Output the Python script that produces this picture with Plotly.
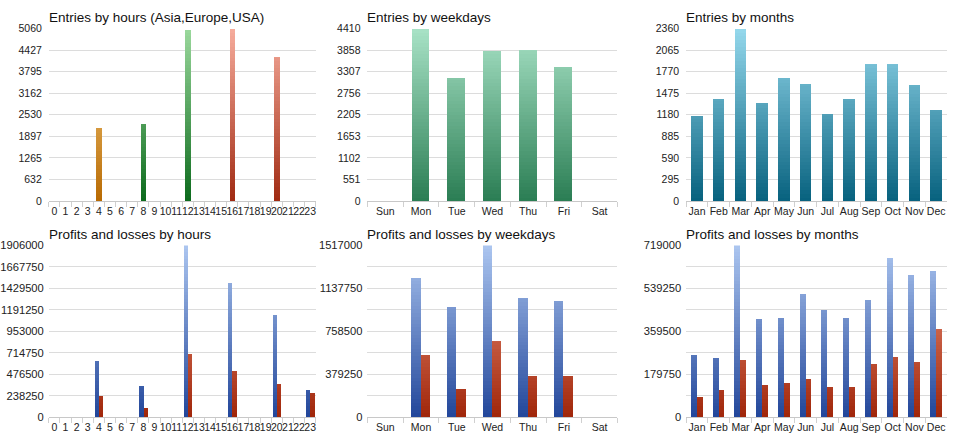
import math
import plotly.graph_objects as go

# ---------------- data ----------------
hours = [str(h) for h in range(24)]
entries_hours = [0, 0, 0, 0, 2125, 0, 0, 0, 2268, 0, 0, 0,
                 5031, 0, 0, 0, 5060, 0, 0, 0, 4231, 0, 0, 0]
hour_regions = ["Asia"] * 8 + ["Europe"] * 8 + ["USA"] * 8

weekdays = ["Sun", "Mon", "Tue", "Wed", "Thu", "Fri", "Sat"]
entries_weekdays = [0, 4410, 3147, 3853, 3870, 3422, 0]

months = ["Jan", "Feb", "Mar", "Apr", "May", "Jun",
          "Jul", "Aug", "Sep", "Oct", "Nov", "Dec"]
entries_months = [1164, 1404, 2360, 1338, 1684, 1604,
                  1196, 1391, 1876, 1871, 1587, 1240]

profit_hours = [0, 0, 0, 0, 618600, 0, 0, 0, 345300, 0, 0, 0,
                1906000, 0, 0, 0, 1485200, 0, 0, 0, 1125600, 0, 0, 291300]
loss_hours = [0, 0, 0, 0, 237400, 0, 0, 0, 100700, 0, 0, 0,
              697700, 0, 0, 0, 510700, 0, 0, 0, 363200, 0, 0, 269700]

profit_weekdays = [0, 1222200, 967500, 1517000, 1047600, 1019000, 0]
loss_weekdays = [0, 543800, 246100, 666900, 360700, 363500, 0]

profit_months = [259100, 242800, 719000, 409700, 413800, 512800,
                 447700, 413800, 487000, 664700, 591500, 610500]
loss_months = [84100, 112600, 237400, 131600, 141100, 157400,
               123500, 126200, 221100, 252300, 226600, 366300]

titles = ["Entries by hours (Asia,Europe,USA)", "Entries by weekdays", "Entries by months",
          "Profits and losses by hours", "Profits and losses by weekdays", "Profits and losses by months"]

# ---------------- styles ----------------
W, H = 960, 446
region_grad = {"Asia": ("#b86a02", "#fcd68c"),
               "Europe": ("#0c6a1c", "#9ad89c"),
               "USA": ("#a02a12", "#f6ac9c")}
green_grad = ("#2a7d53", "#a8e2c6")
teal_grad = ("#07617e", "#94d8ec")
blue_grad = ("#22469a", "#acc6f0")
red_grad = ("#a0260a", "#f49c84")

x_px = [(45, 313), (365, 616), (685, 947)]
y_px = [(23.3, 200.3), (246.0, 422.7)]
NB = 48


def hex2rgb(h):
    h = h.lstrip("#")
    return [int(h[i:i + 2], 16) for i in (0, 2, 4)]


def mix(c0, c1, t):
    a, b = hex2rgb(c0), hex2rgb(c1)
    return "rgb(%d,%d,%d)" % tuple(round(a[i] + (b[i] - a[i]) * t) for i in range(3))


fig = go.Figure()


def gradient_bars(idx, cats, vals, ymax, grads, width, offset):
    """grads: list of (bottom, top) colour per category"""
    xa = "x" if idx == 1 else "x%d" % idx
    ya = "y" if idx == 1 else "y%d" % idx
    for k in range(NB):
        lo = ymax * k / NB
        hi = ymax * (k + 1) / NB
        hs = [(min(v, hi) - lo) if v > lo else 0 for v in vals]
        t = (k + 0.5) / NB
        cols = [mix(g[0], g[1], t) for g in grads]
        fig.add_trace(go.Bar(x=cats, y=hs, base=lo, width=width, offset=offset,
                             marker=dict(color=cols, line=dict(width=0)),
                             xaxis=xa, yaxis=ya, hoverinfo="skip", showlegend=False))


panels = [
    (hours, [entries_hours], [[region_grad[r] for r in hour_regions]], [0.5], [-0.25], True),
    (weekdays, [entries_weekdays], [[green_grad] * 7], [0.5], [-0.25], True),
    (months, [entries_months], [[teal_grad] * 12], [0.53], [-0.265], True),
    (hours, [profit_hours, loss_hours], [[blue_grad] * 24, [red_grad] * 24], [0.38, 0.38], [-0.38, 0.0], True),
    (weekdays, [profit_weekdays, loss_weekdays], [[blue_grad] * 7, [red_grad] * 7], [0.26, 0.26], [-0.26, 0.0], False),
    (months, [profit_months, loss_months], [[blue_grad] * 12, [red_grad] * 12], [0.27, 0.27], [-0.27, 0.0], False),
]

layout = dict(width=W, height=H, margin=dict(l=0, r=0, t=0, b=0),
              paper_bgcolor="white", plot_bgcolor="white",
              barmode="overlay", bargap=0, bargroupgap=0,
              font=dict(family="Liberation Sans, Arial, sans-serif", size=10, color="#222"),
              annotations=[])

for i, (cats, series, grads, widths, offsets, all_labels) in enumerate(panels):
    idx = i + 1
    row, col = divmod(i, 3)
    ymax = max(max(s) for s in series)
    for s, g, w, o in zip(series, grads, widths, offsets):
        gradient_bars(idx, cats, s, ymax, g, w, o)
    tickvals = [ymax * k / 8 for k in range(9)]
    ticktext = [str(int(math.floor(v + 1e-9))) if (all_labels or k % 2 == 0) else ""
                for k, v in enumerate(tickvals)]
    x0, x1 = x_px[col]
    yt, yb = y_px[row]
    xname = "xaxis" if idx == 1 else "xaxis%d" % idx
    yname = "yaxis" if idx == 1 else "yaxis%d" % idx
    layout[xname] = dict(domain=[x0 / W, x1 / W], anchor="y" if idx == 1 else "y%d" % idx,
                         type="category", categoryorder="array", categoryarray=cats,
                         tickmode="array", tickvals=cats, ticktext=cats, tickangle=0,
                         range=[-0.5, len(cats) - 0.5],
                         ticks="outside", tickson="boundaries", ticklen=5,
                         tickcolor="#d0d0d0", showline=True, linecolor="#c8c8c8",
                         showgrid=False, fixedrange=True,
                         tickfont=dict(size=10.5, color="#222"))
    layout[yname] = dict(domain=[1 - yb / H, 1 - yt / H], anchor="x" if idx == 1 else "x%d" % idx,
                         range=[0, ymax], tickmode="array", tickvals=tickvals, ticktext=ticktext,
                         showgrid=True, gridcolor="#dcdcdc", gridwidth=1, zeroline=False,
                         showline=False, ticks="", fixedrange=True,
                         ticklabelstandoff=6 if row == 0 else 4,
                         tickfont=dict(size=10.5 if row == 0 else 11.2, color="#222"))
    layout["annotations"].append(dict(text=titles[i], x=(x0 - 2) / W, y=1 - (yt - 11.5) / H,
                                      xref="paper", yref="paper", xanchor="left", yanchor="middle",
                                      showarrow=False,
                                      font=dict(size=13.5, color="#111",
                                                family="Liberation Sans, Arial, sans-serif")))

fig.update_layout(**layout)
fig.write_html("out.html", config={"displayModeBar": False},
               post_script="document.body.style.margin='0';document.body.style.overflow='hidden';")
